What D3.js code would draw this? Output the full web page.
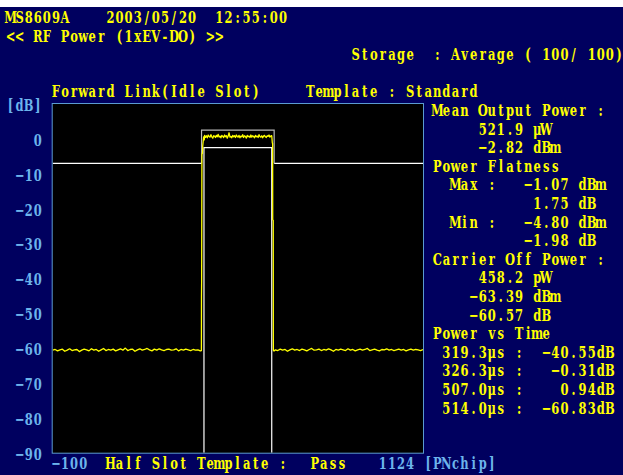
<!DOCTYPE html>
<html>
<head>
<meta charset="utf-8">
<script src="https://cdn.jsdelivr.net/npm/d3@7"></script>
<style>
  html, body { margin: 0; padding: 0; background: #00005f; overflow: hidden; }
  text { white-space: pre; }
</style>
</head>
<body>
<script>
// ---------- screen texts ----------
const headerModel = "MS8609A";
const headerDate = "2003/05/20";
const headerTime = "12:55:00";
const measTitle = "<< RF Power (1xEV-DO) >>";
const storageText = "Storage  : Average ( 100/ 100)";
const linkText = "Forward Link(Idle Slot)";
const templateText = "Template : Standard";
const halfSlotLabel = "Half Slot Template :";
const judgement = "Pass";
const yUnit = "[dB]";
const xUnit = "[PNchip]";

// ---------- axes ----------
const yDomain = [-90, 10];
const yTicks = [0, -10, -20, -30, -40, -50, -60, -70, -80, -90];
const xDomain = [-100, 1124];

// ---------- measured results ----------
const meanPowerUW = 521.9;
const meanPowerDbm = -2.82;
const flatMaxDbm = -1.07;
const flatMaxDb = 1.75;
const flatMinDbm = -4.80;
const flatMinDb = -1.98;
const carrierOffPw = 458.2;
const carrierOffDbm = -63.39;
const carrierOffDb = -60.57;
const pvtTimesUs = [319.3, 326.3, 507.0, 514.0];
const pvtDb = [-40.55, -0.31, 0.94, -60.83];
const chipRateMcps = 1.2288;

// ---------- template mask (chips / dB) ----------
const maskOuterDb = -7;
const maskUpperDb = 2.5;
const maskLowerDb = -2.5;
const upperWindow = [392, 632];
const lowerWindow = [400, 624];

// ---------- averaged trace ----------
const floorLeftStart = -100, floorStep = 8;
const floorLeftDb = [
  -60.6,-60.4,-60.8,-60.5,-60.3,-60.9,-60.6,-60.2,-60.7,-60.5,
  -60.4,-61.0,-60.6,-60.3,-60.5,-60.8,-60.2,-60.6,-60.4,-60.9,
  -60.5,-60.1,-60.7,-60.4,-60.6,-60.3,-60.8,-60.5,-60.2,-60.6,
  -60.0,-60.7,-60.4,-60.3,-60.9,-60.5,-60.2,-60.6,-60.4,-60.1,
  -60.5,-60.8,-60.3,-60.6,-60.2,-60.5,-60.7,-60.4,-60.3,-60.6,
  -60.5,-60.2,-60.8,-60.4,-60.6,-60.3,-60.5,-60.7,-60.4,-60.6,
  -60.5,-60.8
];
const riseEdge = [[391.5, -60.7], [391.8, -45.3], [393.2, -4.4], [395.0, -4.1], [396.0, -1.98]];
const burstStart = 399, burstStep = 3;
const burstDb = [
  0.6,1.0,0.4,0.9,0.3,1.1,0.7,0.5,1.2,0.6,
  0.2,0.9,0.8,0.4,1.0,0.6,1.3,0.5,0.8,0.3,
  1.0,0.7,0.4,1.1,0.6,0.9,0.2,0.8,1.75,0.5,
  0.7,0.3,1.0,0.6,0.9,0.4,1.1,0.7,0.5,1.0,
  0.3,0.8,0.6,1.2,0.4,0.9,0.7,0.2,1.0,0.6,
  0.8,0.4,1.1,0.5,0.9,0.7,0.3,1.0,0.6,0.8,
  0.4,1.2,0.7,0.5,0.9,0.3,0.8,1.0,0.6,0.4,
  0.9,0.7,1.1,0.5,0.8,0.9
];
const fallEdge = [[626.0, -1.2], [627.0, -1.3], [627.3, -23.2], [629.0, -23.4], [629.3, -60.6]];
const floorRightStart = 636;
const floorRightDb = [
  -60.5,-60.7,-60.3,-60.6,-60.4,-60.9,-60.5,-60.2,-60.6,-60.4,
  -60.7,-60.3,-60.5,-60.8,-60.4,-60.1,-60.6,-60.5,-60.3,-60.7,
  -60.4,-60.6,-60.2,-60.5,-60.9,-60.4,-60.6,-60.3,-60.5,-60.7,
  -60.2,-60.6,-60.4,-60.8,-60.5,-60.3,-60.6,-60.4,-60.1,-60.7,
  -60.5,-60.3,-60.6,-60.8,-60.4,-60.5,-60.2,-60.6,-60.4,-60.7,
  -60.5,-60.3,-60.6,-60.4,-60.8,-60.5,-60.3,-60.6,-60.4,-60.5,
  -60.7,-60.4
];

// ---------- look ----------
const W = 623, H = 475;
const NAVY = "#00005f", YELLOW = "#ffff00", BLUE = "#6cb4ec", FRAME = "#5b9bd0";
const CELL = 9.08, COL0 = 6, ROW0 = 23, ROWH = 18.6;
const FS = 16, SX = 0.72, SY = 1.0;
const FONT = "'DejaVu Serif', 'Liberation Serif', serif";
const plotL = 52.7, plotR = 423, plotT = 104, plotB = 452.7;

const svg = d3.select("body").append("svg")
  .attr("width", W).attr("height", H)
  .attr("xmlns", "http://www.w3.org/2000/svg");

svg.append("defs").append("clipPath").attr("id", "plotClip")
  .append("rect").attr("x", plotL).attr("y", plotT)
  .attr("width", plotR - plotL).attr("height", plotB - plotT);

svg.append("rect").attr("width", W).attr("height", H).attr("fill", NAVY);
// page strip above the screen
svg.append("rect").attr("width", W).attr("height", 7).attr("fill", "#ffffff");

// fixed-pitch screen text: each glyph centred in its own character cell
function gridText(parent, str, col, baseline, color) {
  const chars = Array.from(str);
  const xs = chars.map((c, i) => ((COL0 + (col + i + 0.5) * CELL) / SX).toFixed(2));
  return parent.append("text")
    .attr("xml:space", "preserve")
    .attr("transform", `translate(0,${baseline}) scale(${SX},${SY})`)
    .attr("x", xs.join(" ")).attr("y", 0)
    .attr("text-anchor", "middle")
    .attr("font-family", FONT)
    .attr("font-weight", "bold")
    .attr("font-size", FS)
    .attr("fill", color)
    .text(str);
}
const rowY = r => ROW0 + r * ROWH;
const num = (v, d) => v.toFixed(d).replace("-", "\u2212");

// header
gridText(svg, headerModel, 0, rowY(0), YELLOW);
gridText(svg, headerDate, 11, rowY(0), YELLOW);
gridText(svg, headerTime, 23, rowY(0), YELLOW);
gridText(svg, measTitle, 0, rowY(1), YELLOW);
gridText(svg, storageText, 38, rowY(2), YELLOW);
gridText(svg, linkText, 5, rowY(4), YELLOW);
gridText(svg, templateText, 33, rowY(4), YELLOW);

// result panel
function rightText(str, endCol, unit, r) {
  gridText(svg, str + unit, endCol - str.length, rowY(r), YELLOW);
}
gridText(svg, "Mean Output Power :", 47, rowY(5), YELLOW);
rightText(num(meanPowerUW, 1), 57, " \u03bcW", 6);
rightText(num(meanPowerDbm, 2), 57, " dBm", 7);
gridText(svg, "Power Flatness", 47, rowY(8), YELLOW);
gridText(svg, "Max :", 49, rowY(9), YELLOW);
rightText(num(flatMaxDbm, 2), 62, " dBm", 9);
rightText(num(flatMaxDb, 2), 62, " dB", 10);
gridText(svg, "Min :", 49, rowY(11), YELLOW);
rightText(num(flatMinDbm, 2), 62, " dBm", 11);
rightText(num(flatMinDb, 2), 62, " dB", 12);
gridText(svg, "Carrier Off Power :", 47, rowY(13), YELLOW);
rightText(num(carrierOffPw, 1), 57, " pW", 14);
rightText(num(carrierOffDbm, 2), 57, " dBm", 15);
rightText(num(carrierOffDb, 2), 57, " dB", 16);
gridText(svg, "Power vs Time", 47, rowY(17), YELLOW);
pvtTimesUs.forEach((t, i) => {
  gridText(svg, num(t, 1) + "\u03bcs :", 48, rowY(18 + i), YELLOW);
  const v = num(pvtDb[i], 2) + "dB";
  gridText(svg, v, 67 - v.length, rowY(18 + i), YELLOW);
});

// ---------- plot ----------
const x = d3.scaleLinear().domain(xDomain).range([plotL, plotR]);
const y = d3.scaleLinear().domain(yDomain).range([plotB, plotT]);

svg.append("rect")
  .attr("x", plotL - 0.5).attr("y", plotT - 0.5)
  .attr("width", plotR - plotL + 1).attr("height", plotB - plotT + 1)
  .attr("fill", "#000").attr("stroke", FRAME).attr("stroke-width", 1);

const line = d3.line().x(d => x(d[0])).y(d => y(d[1]));
const plot = svg.append("g").attr("clip-path", "url(#plotClip)");

// template mask
const outerLeft = [[xDomain[0], maskOuterDb], [upperWindow[0], maskOuterDb]];
const outerRight = [[upperWindow[1], maskOuterDb], [xDomain[1], maskOuterDb]];
const upperBox = [[upperWindow[0], maskOuterDb], [upperWindow[0], maskUpperDb],
                  [upperWindow[1], maskUpperDb], [upperWindow[1], maskOuterDb]];
const lowerBox = [[lowerWindow[0], yDomain[0]], [lowerWindow[0], maskLowerDb],
                  [lowerWindow[1], maskLowerDb], [lowerWindow[1], yDomain[0]]];
[outerLeft, outerRight, lowerBox].forEach(seg =>
  plot.append("path").attr("d", line(seg)).attr("fill", "none")
    .attr("stroke", "#ffffff").attr("stroke-width", 1.2));
plot.append("path").attr("d", line(upperBox)).attr("fill", "none")
  .attr("stroke", "#b8b8b8").attr("stroke-width", 1.2);

// averaged power trace
const trace = [];
floorLeftDb.forEach((v, i) => trace.push([floorLeftStart + i * floorStep, v]));
riseEdge.forEach(p => trace.push(p));
burstDb.forEach((v, i) => trace.push([burstStart + i * burstStep, v]));
fallEdge.forEach(p => trace.push(p));
floorRightDb.forEach((v, i) => trace.push([floorRightStart + i * floorStep, v]));
pvtTimesUs.forEach((t, i) => trace.push([t * chipRateMcps, pvtDb[i]]));
trace.sort((a, b) => a[0] - b[0]);

plot.append("path").attr("d", line(trace)).attr("fill", "none")
  .attr("stroke", YELLOW).attr("stroke-width", 1.3).attr("stroke-linejoin", "round");

// y axis: tick positions from the scale, labels in screen cells
const yAxis = d3.axisLeft(y).tickValues(yTicks).tickSize(0);
const ag = svg.append("g").call(yAxis);
ag.select(".domain").remove();
ag.selectAll(".tick").each(function () {
  const g = d3.select(this);
  const label = g.select("text").text();
  g.select("text").remove();
  gridText(g, label, 4 - Array.from(label).length, 6.5, BLUE);
});
gridText(svg, yUnit, 0, 111, BLUE);

// bottom line: x range and template verdict
gridText(svg, num(xDomain[0], 0), 5, rowY(24), BLUE);
gridText(svg, halfSlotLabel, 11, rowY(24), YELLOW);
gridText(svg, judgement, 33.5, rowY(24), YELLOW);
gridText(svg, String(xDomain[1]) + " " + xUnit, 41, rowY(24), BLUE);
</script>
</body>
</html>
